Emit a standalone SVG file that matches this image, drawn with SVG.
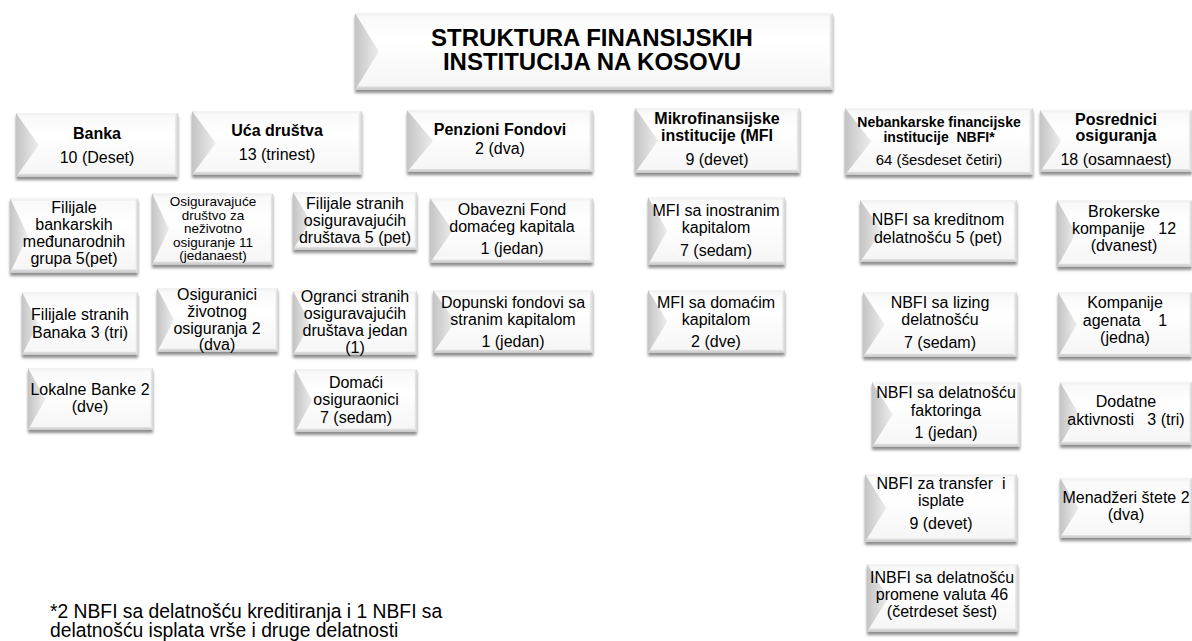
<svg xmlns="http://www.w3.org/2000/svg" width="1192" height="641" viewBox="0 0 1192 641">
<style>
text{font-family:"Liberation Sans",Arial,Helvetica,sans-serif;fill:#000;text-anchor:middle;font-size:16px}
.b{font-weight:bold}
.ttl{font-size:24px;font-weight:bold}
.s14{font-size:14px}
.s13{font-size:13.5px}
.s15{font-size:15px}
.fn{text-anchor:start;font-size:19.3px}
.box{filter:url(#ds)}
</style>
<defs>
<linearGradient id="gl" x1="0" y1="0" x2="1" y2="0">
<stop offset="0" stop-color="#c4c4c4"/>
<stop offset="1" stop-color="#ededed"/>
</linearGradient>
<linearGradient id="gf" x1="0" y1="0" x2="0" y2="1">
<stop offset="0" stop-color="#f8f8f8"/>
<stop offset="0.35" stop-color="#ffffff"/>
<stop offset="1" stop-color="#f5f5f5"/>
</linearGradient>
<linearGradient id="gb" x1="0" y1="0" x2="0" y2="1">
<stop offset="0" stop-color="#e2e2e2"/>
<stop offset="1" stop-color="#c6c6c6"/>
</linearGradient>
<linearGradient id="gr" x1="0" y1="0" x2="1" y2="0">
<stop offset="0" stop-color="#eeeeee"/>
<stop offset="1" stop-color="#d4d4d4"/>
</linearGradient>
<filter id="ds" x="-3%" y="-5%" width="106%" height="125%">
<feGaussianBlur in="SourceAlpha" stdDeviation="1.6"/>
<feOffset dy="2.5"/>
<feComponentTransfer><feFuncA type="linear" slope="0.45"/></feComponentTransfer>
<feMerge><feMergeNode/><feMergeNode in="SourceGraphic"/></feMerge>
</filter>
<symbol id="bev" viewBox="0 0 100 100" preserveAspectRatio="none">
<rect width="100" height="100" fill="url(#gf)"/>
<polygon points="0,0 100,0 98,4 1.1,4" fill="#f2f2f2"/>
<polygon points="100,0 100,100 98,95 98,4" fill="url(#gr)"/>
<polygon points="0,100 100,100 98,95 1.4,95" fill="url(#gb)"/>
<polygon points="0,0 14,50 0,100" fill="url(#gl)"/>
</symbol>
<symbol id="bevw" viewBox="0 0 100 100" preserveAspectRatio="none">
<rect width="100" height="100" fill="url(#gf)"/>
<polygon points="0,0 100,0 99.3,4 0.4,4" fill="#f2f2f2"/>
<polygon points="100,0 100,100 99.3,95 99.3,4" fill="url(#gr)"/>
<polygon points="0,100 100,100 99.3,95 0.5,95" fill="url(#gb)"/>
<polygon points="0,0 5,50 0,100" fill="url(#gl)"/>
</symbol>
</defs>
<rect width="1192" height="641" fill="#ffffff"/>
<g id="connectors"/>

<g id="n-title"><use href="#bevw" class="box" x="355" y="13" width="478" height="77"/>
<text class="ttl"><tspan x="592" y="46">STRUKTURA FINANSIJSKIH</tspan><tspan x="592" y="70">INSTITUCIJA NA KOSOVU</tspan></text></g>

<g id="n-banka"><use href="#bev" class="box" x="16" y="113" width="162" height="64"/>
<text><tspan class="b" x="97" y="139">Banka</tspan><tspan x="97" y="163">10 (Deset)</tspan></text></g>

<g id="n-uca"><use href="#bev" class="box" x="192" y="111" width="170" height="64"/>
<text><tspan class="b" x="277" y="136">Uća društva</tspan><tspan x="277" y="160">13 (trinest)</tspan></text></g>

<g id="n-penzioni"><use href="#bev" class="box" x="407" y="110" width="186" height="62"/>
<text><tspan class="b" x="500" y="135">Penzioni Fondovi</tspan><tspan x="500" y="154">2 (dva)</tspan></text></g>

<g id="n-mfi"><use href="#bev" class="box" x="635" y="108" width="165" height="65"/>
<text><tspan class="b" x="717" y="124">Mikrofinansijske</tspan><tspan class="b" x="717" y="141">institucije (MFI</tspan><tspan x="717" y="165">9 (devet)</tspan></text></g>

<g id="n-nbfi"><use href="#bev" class="box" x="845" y="108" width="188" height="67"/>
<text xml:space="preserve"><tspan class="b s14" x="939" y="127">Nebankarske financijske</tspan><tspan class="b s14" x="939" y="142">institucije  NBFI*</tspan><tspan class="s15" x="939" y="165">64 (šesdeset četiri)</tspan></text></g>

<g id="n-posrednici"><use href="#bev" class="box" x="1040" y="110" width="152" height="62"/>
<text><tspan class="b" x="1116" y="125">Posrednici</tspan><tspan class="b" x="1116" y="141">osiguranja</tspan><tspan x="1116" y="165">18 (osamnaest)</tspan></text></g>

<g id="n-filijale-bank"><use href="#bev" class="box" x="10" y="198" width="128" height="75"/>
<text><tspan x="74" y="213">Filijale</tspan><tspan x="74" y="230">bankarskih</tspan><tspan x="74" y="247">međunarodnih</tspan><tspan x="74" y="264">grupa 5(pet)</tspan></text></g>

<g id="n-osig-nezivot"><use href="#bev" class="box" x="152" y="193" width="121" height="72"/>
<text class="s13"><tspan x="213" y="206">Osiguravajuće</tspan><tspan x="213" y="219.5">društvo za</tspan><tspan x="213" y="233">neživotno</tspan><tspan x="213" y="246.5">osiguranje 11</tspan><tspan x="213" y="260">(jedanaest)</tspan></text></g>

<g id="n-filijale-osig"><use href="#bev" class="box" x="293" y="192" width="124" height="58"/>
<text><tspan x="355" y="209">Filijale stranih</tspan><tspan x="355" y="226">osiguravajućih</tspan><tspan x="355" y="243">društava 5 (pet)</tspan></text></g>

<g id="n-obavezni"><use href="#bev" class="box" x="430" y="198" width="163" height="65"/>
<text><tspan x="512" y="215">Obavezni Fond</tspan><tspan x="512" y="232">domaćeg kapitala</tspan><tspan x="512" y="254">1 (jedan)</tspan></text></g>

<g id="n-mfi-ino"><use href="#bev" class="box" x="648" y="197" width="137" height="68"/>
<text><tspan x="716" y="216">MFI sa inostranim</tspan><tspan x="716" y="233">kapitalom</tspan><tspan x="716" y="256">7 (sedam)</tspan></text></g>

<g id="n-nbfi-kred"><use href="#bev" class="box" x="860" y="200" width="157" height="62"/>
<text><tspan x="938" y="225">NBFI sa kreditnom</tspan><tspan x="938" y="243">delatnošću 5 (pet)</tspan></text></g>

<g id="n-brokerske"><use href="#bev" class="box" x="1057" y="200" width="135" height="67"/>
<text xml:space="preserve"><tspan x="1124" y="217">Brokerske</tspan><tspan x="1124" y="234">kompanije   12</tspan><tspan x="1124" y="251">(dvanest)</tspan></text></g>

<g id="n-filijale-banaka"><use href="#bev" class="box" x="22" y="292" width="116" height="63"/>
<text><tspan x="80" y="320">Filijale stranih</tspan><tspan x="80" y="338">Banaka 3 (tri)</tspan></text></g>

<g id="n-osiguranici"><use href="#bev" class="box" x="157" y="288" width="121" height="64"/>
<text><tspan x="217" y="300">Osiguranici</tspan><tspan x="217" y="317">životnog</tspan><tspan x="217" y="334">osiguranja 2</tspan><tspan x="217" y="350">(dva)</tspan></text></g>

<g id="n-ogranci"><use href="#bev" class="box" x="293" y="291" width="124" height="64"/>
<text><tspan x="355" y="302">Ogranci stranih</tspan><tspan x="355" y="319">osiguravajućih</tspan><tspan x="355" y="336">društava jedan</tspan><tspan x="355" y="353">(1)</tspan></text></g>

<g id="n-dopunski"><use href="#bev" class="box" x="433" y="290" width="160" height="63"/>
<text><tspan x="513" y="308">Dopunski fondovi sa</tspan><tspan x="513" y="325">stranim kapitalom</tspan><tspan x="513" y="347">1 (jedan)</tspan></text></g>

<g id="n-mfi-dom"><use href="#bev" class="box" x="648" y="290" width="137" height="63"/>
<text><tspan x="716" y="308">MFI sa domaćim</tspan><tspan x="716" y="325">kapitalom</tspan><tspan x="716" y="347">2 (dve)</tspan></text></g>

<g id="n-nbfi-lizing"><use href="#bev" class="box" x="863" y="292" width="154" height="65"/>
<text><tspan x="940" y="308">NBFI sa lizing</tspan><tspan x="940" y="325">delatnošću</tspan><tspan x="940" y="348">7 (sedam)</tspan></text></g>

<g id="n-kompanije"><use href="#bev" class="box" x="1058" y="292" width="134" height="65"/>
<text xml:space="preserve"><tspan x="1125" y="308">Kompanije</tspan><tspan x="1125" y="326">agenata    1</tspan><tspan x="1125" y="343">(jedna)</tspan></text></g>

<g id="n-lokalne"><use href="#bev" class="box" x="28" y="368" width="125" height="62"/>
<text><tspan x="90" y="395">Lokalne Banke 2</tspan><tspan x="90" y="412">(dve)</tspan></text></g>

<g id="n-domaci"><use href="#bev" class="box" x="295" y="369" width="122" height="63"/>
<text><tspan x="356" y="388">Domaći</tspan><tspan x="356" y="405">osiguraonici</tspan><tspan x="356" y="423">7 (sedam)</tspan></text></g>

<g id="n-nbfi-fakt"><use href="#bev" class="box" x="872" y="382" width="148" height="65"/>
<text><tspan x="946" y="398">NBFI sa delatnošću</tspan><tspan x="946" y="416">faktoringa</tspan><tspan x="946" y="438">1 (jedan)</tspan></text></g>

<g id="n-dodatne"><use href="#bev" class="box" x="1060" y="382" width="132" height="63"/>
<text xml:space="preserve"><tspan x="1126" y="407">Dodatne</tspan><tspan x="1126" y="425">aktivnosti   3 (tri)</tspan></text></g>

<g id="n-nbfi-transfer"><use href="#bev" class="box" x="865" y="474" width="152" height="68"/>
<text xml:space="preserve"><tspan x="941" y="489">NBFI za transfer  i</tspan><tspan x="941" y="506">isplate</tspan><tspan x="941" y="529">9 (devet)</tspan></text></g>

<g id="n-menadzeri"><use href="#bev" class="box" x="1060" y="478" width="132" height="60"/>
<text><tspan x="1126" y="503">Menadžeri štete 2</tspan><tspan x="1126" y="520">(dva)</tspan></text></g>

<g id="n-inbfi"><use href="#bev" class="box" x="867" y="564" width="151" height="68"/>
<text><tspan x="942" y="583">INBFI sa delatnošću</tspan><tspan x="942" y="600">promene valuta 46</tspan><tspan x="942" y="617">(četrdeset šest)</tspan></text></g>

<g id="footnote">
<text class="fn"><tspan x="50" y="618">*2 NBFI sa delatnošću kreditiranja i 1 NBFI sa</tspan><tspan x="50" y="637">delatnošću isplata vrše i druge delatnosti</tspan></text>
</g>
</svg>
